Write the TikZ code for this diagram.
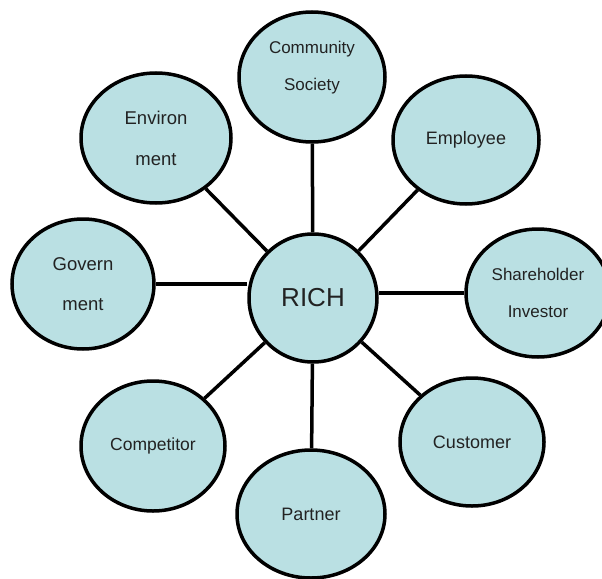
\documentclass[tikz,border=0pt]{standalone}
\usepackage{fontspec}
\setmainfont{Liberation Sans}
\usetikzlibrary{shapes.geometric,backgrounds}
\definecolor{bubble}{HTML}{BAE0E3}
\definecolor{ink}{HTML}{222222}
\tikzset{x=1pt,y=-1pt,
    party/.style={ellipse,draw=black,line width=3.5pt,fill=bubble,text=ink,
        inner sep=0pt,align=center,font=\fontsize{18}{39}\selectfont},
    hub/.style={circle,draw=black,line width=3.5pt,fill=bubble,text=ink,
        inner sep=0pt,minimum size=128pt,font=\fontsize{26}{30}\selectfont},
    link/.style={draw=black,line width=3.5pt},
    }
\begin{document}
\begin{tikzpicture}
	\useasboundingbox (0,0) rectangle (602,578);
	\node[hub] (rich) at (313,298) {RICH};
	\node[party,minimum width=146pt,minimum height=130pt,font=\fontsize{17}{37}\selectfont] (comm) at (312,77) {Community\\Society\\[-14pt]};
	\node[party,minimum width=146pt,minimum height=128pt] (emp) at (466,140) {Employee};
	\node[party,minimum width=144pt,minimum height=128pt,font=\fontsize{17}{37}\selectfont] (share) at (538,293) {Shareholder\\Investor};
	\node[party,minimum width=144pt,minimum height=128pt] (cust) at (472,442) {Customer};
	\node[party,minimum width=148pt,minimum height=128pt] (part) at (311,514) {Partner};
	\node[party,minimum width=144pt,minimum height=130pt,font=\fontsize{17.5}{21}\selectfont] (comp) at (153,446) {Competitor};
	\node[party,minimum width=142pt,minimum height=130pt,font=\fontsize{18.5}{40}\selectfont] (gov) at (83,284) {Govern\\ment};
	\node[party,minimum width=150pt,minimum height=130pt,font=\fontsize{18.5}{41}\selectfont] (env) at (156,138) {Environ\\ment};
	\begin{scope}[on background layer]
		\draw[link] (rich) -- (comm);
		\draw[link] (rich) -- (emp);
		\draw[link] (share.west) -- (share.west -| rich.east);
		\draw[link] (rich) -- (cust);
		\draw[link] (rich) -- (part);
		\draw[link] (rich) -- (comp);
		\draw[link] (gov.east) -- (gov.east -| rich.west);
		\draw[link] (rich) -- (env);
	\end{scope}
\end{tikzpicture}
\end{document}
